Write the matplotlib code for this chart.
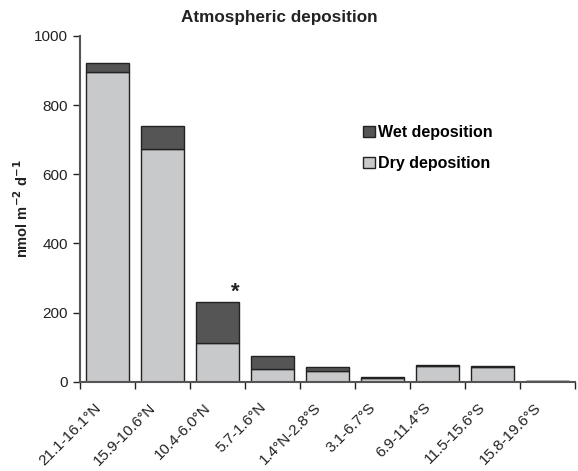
import matplotlib
matplotlib.use('Agg')
import matplotlib.pyplot as plt
import matplotlib.transforms as mtransforms
import numpy as np

plt.rcParams['font.family'] = ['Liberation Sans', 'DejaVu Sans']

regions = ['21.1-16.1°N', '15.9-10.6°N', '10.4-6.0°N', '5.7-1.6°N', '1.4°N-2.8°S',
           '3.1-6.7°S', '6.9-11.4°S', '11.5-15.6°S', '15.8-19.6°S']
dry = [895, 674, 111, 37, 30, 12, 45, 42, 2]
wet = [26, 66, 120, 38, 13, 3, 2, 2, 1]

x = np.arange(len(regions))
dry = np.array(dry)
wet = np.array(wet)

fig = plt.figure(figsize=(5.78, 4.71), dpi=100)
ax = fig.add_axes([0.1384, 0.1896, 0.8564, 0.734])

ax.bar(x, dry, width=0.78, color='#c8c9cb', edgecolor='#222222', lw=1.0,
       label='Dry deposition')
ax.bar(x, wet, bottom=dry, width=0.78, color='#555555', edgecolor='#222222', lw=1.0,
       label='Wet deposition')

# star above the 10.4-6.0N bar
ax.text(2.32, dry[2] + wet[2] - 3, '*', fontsize=16, fontweight='bold',
        ha='center', va='bottom', color='#222222')

ax.set_xlim(-0.5, len(regions) - 0.5)
ax.set_ylim(0, 1000)
ax.set_yticks(np.arange(0, 1001, 200))
ax.tick_params(axis='y', direction='out', length=5, width=1, labelsize=11,
               color='#222222', labelcolor='#222222')

ax.set_xticks(np.arange(-0.5, len(regions), 1.0))
ax.set_xticklabels([])
ax.tick_params(axis='x', which='major', direction='out', length=5, width=1, color='#222222')
ax.set_xticks(x, minor=True)
ax.set_xticklabels(regions, minor=True, rotation=45, ha='right', va='center',
                   rotation_mode='anchor', fontsize=11, color='#222222')
ax.tick_params(axis='x', which='minor', length=0, pad=17)
shift = mtransforms.ScaledTranslation(-0.09, 0, fig.dpi_scale_trans)
for lab in ax.get_xticklabels(minor=True):
    lab.set_transform(lab.get_transform() + shift)

for s in ['top', 'right']:
    ax.spines[s].set_visible(False)
for s in ['left', 'bottom']:
    ax.spines[s].set_color('#555555')
    ax.spines[s].set_linewidth(1.5)

ax.set_ylabel('nmol m$^{\\mathbf{-2}}$ d$^{\\mathbf{-1}}$', fontsize=10.5, fontweight='bold',
              color='#222222')
ax.yaxis.set_label_coords(-0.098, 0.5)
fig.text(0.484, 0.962, 'Atmospheric deposition', fontsize=12.3, fontweight='bold',
         color='#222222', ha='center', va='center')

handles, labels = ax.get_legend_handles_labels()
ax.legend(handles[::-1], labels[::-1], loc='upper left', bbox_to_anchor=(0.572, 0.742),
          frameon=False, prop={'weight': 'bold', 'size': 11.5},
          handlelength=0.75, handleheight=0.75, handletextpad=0.2, labelspacing=1.0,
          borderaxespad=0, borderpad=0)

fig.savefig('out.png', dpi=100)
